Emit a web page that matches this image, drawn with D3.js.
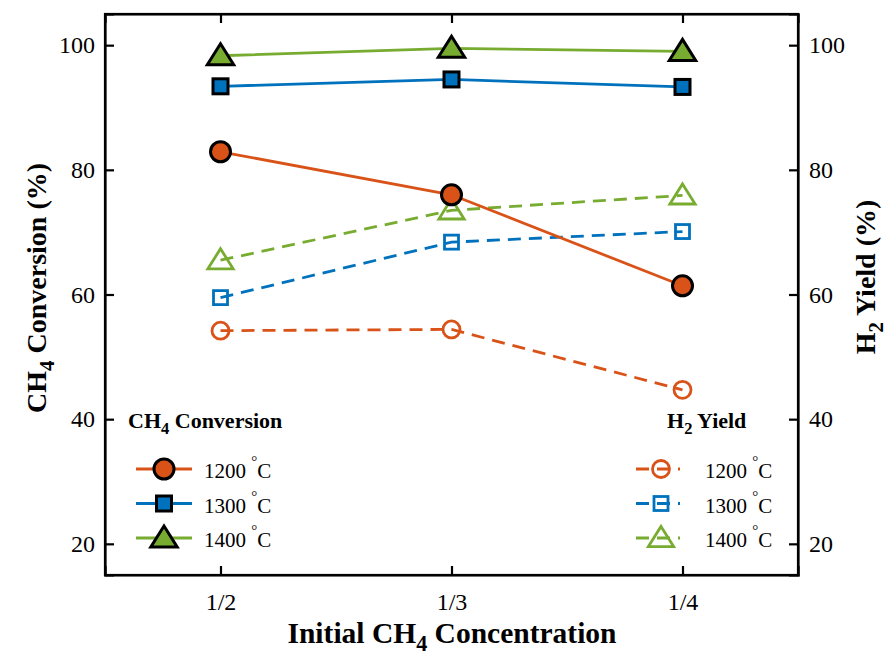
<!DOCTYPE html>
<meta charset="utf-8">
<style>
body { margin: 0; background: #fff; }
svg text { font-family: 'Liberation Serif', 'Times New Roman', serif; fill: #000; }
</style>
<svg width="892" height="655"></svg>
<script src="https://d3js.org/d3.v7.min.js"></script>
<script>

// data
var concentrations = ["1/2", "1/3", "1/4"];
var temps = ["1200", "1300", "1400"];
var conv1200 = [82.9, 76.0, 61.4];
var conv1300 = [93.4, 94.5, 93.3];
var conv1400 = [98.3, 99.5, 99.0];
var yield1200 = [54.2, 54.4, 44.7];
var yield1300 = [59.5, 68.4, 70.1];
var yield1400 = [65.5, 73.5, 75.9];
var yTicks = [20, 40, 60, 80, 100];

var colors = ["#D95319", "#0072BD", "#77AC30"];
var shapes = ["circle", "square", "triangle"];
var serif = "'Liberation Serif', 'Times New Roman', serif";

var svg = d3.select("svg");
var margin = {left: 105, right: 798, top: 14, bottom: 575};

var x = d3.scalePoint().domain(concentrations)
    .range([margin.left, margin.right]).padding(0.5);
var y = d3.scaleLinear().domain([15, 105]).range([margin.bottom, margin.top]);

var lineGen = d3.line()
    .x(function(d, i) { return x(concentrations[i]); })
    .y(function(d) { return y(d); });

var convSeries = [conv1200, conv1300, conv1400];
var yieldSeries = [yield1200, yield1300, yield1400];

function styleAxis(g) {
  g.attr("font-family", null);
  g.select(".domain").attr("stroke", "#000").attr("stroke-width", 2.2);
  g.selectAll(".tick line").attr("stroke", "#000").attr("stroke-width", 2.2);
  g.selectAll(".tick text").style("font-family", serif)
    .attr("font-size", 24).attr("fill", "#000");
}

// axes (ticks point inward, box around plot)
svg.append("g").attr("transform", "translate(" + margin.left + ",0)")
  .call(d3.axisLeft(y).tickValues(yTicks).tickSize(-9).tickPadding(10))
  .call(styleAxis);
svg.append("g").attr("transform", "translate(" + margin.right + ",0)")
  .call(d3.axisRight(y).tickValues(yTicks).tickSize(-9).tickPadding(11))
  .call(styleAxis);
svg.append("g").attr("transform", "translate(0," + margin.bottom + ")")
  .call(d3.axisBottom(x).tickSize(-9).tickPadding(18))
  .call(styleAxis);
svg.append("g").attr("transform", "translate(0," + margin.top + ")")
  .call(d3.axisTop(x).tickSize(-9).tickFormat(""))
  .call(styleAxis);

// plot box
svg.append("rect")
  .attr("x", margin.left).attr("y", margin.top)
  .attr("width", margin.right - margin.left)
  .attr("height", margin.bottom - margin.top)
  .attr("fill", "none").attr("stroke", "#000").attr("stroke-width", 2.2);

function marker(g, shape, cx, cy, filled, color) {
  var m;
  if (shape == "circle") {
    m = g.append("circle").attr("cx", cx).attr("cy", cy).attr("r", filled ? 10 : 8.5);
  } else if (shape == "square") {
    var s = filled ? 15 : 14;
    m = g.append("rect").attr("x", cx - s / 2).attr("y", cy - s / 2).attr("width", s).attr("height", s);
  } else {
    var h = filled ? 12 : 11.5;
    m = g.append("path").attr("d", "M" + cx + "," + (cy - h) + "L" + (cx + h * 1.1) + "," + (cy + h * 0.75) +
      "L" + (cx - h * 1.1) + "," + (cy + h * 0.75) + "Z");
  }
  if (filled) {
    m.attr("fill", color).attr("stroke", "#000").attr("stroke-width", 3);
  } else {
    m.attr("fill", "none").attr("stroke", color).attr("stroke-width", 2.8);
  }
}

// H2 yield: dashed, hollow markers
yieldSeries.forEach(function(vals, k) {
  var g = svg.append("g");
  vals.forEach(function(v, i) { marker(g, shapes[k], x(concentrations[i]), y(v), false, colors[k]); });
  g.append("path").datum(vals).attr("d", lineGen)
    .attr("fill", "none").attr("stroke", colors[k]).attr("stroke-width", 2.8)
    .attr("stroke-dasharray", "13,8");
});

// CH4 conversion: solid, filled markers
convSeries.forEach(function(vals, k) {
  var g = svg.append("g");
  g.append("path").datum(vals).attr("d", lineGen)
    .attr("fill", "none").attr("stroke", colors[k]).attr("stroke-width", 2.8);
  vals.forEach(function(v, i) { marker(g, shapes[k], x(concentrations[i]), y(v), true, colors[k]); });
});

// text with a subscript part
function subText(parent, parts, size) {
  var t = parent.append("text").attr("font-size", size).attr("font-weight", "bold")
    .style("font-family", serif);
  parts.forEach(function(p) {
    if (p.sub) {
      t.append("tspan").attr("dy", size * 0.28).attr("font-size", size * 0.75).text(p.t);
    } else if (p.back) {
      t.append("tspan").attr("dy", -size * 0.28).text(p.t);
    } else {
      t.append("tspan").text(p.t);
    }
  });
  return t;
}

// axis titles
subText(svg, [{t: "Initial CH"}, {t: "4", sub: true}, {t: " Concentration", back: true}], 29.5)
  .attr("x", 452).attr("y", 643).attr("text-anchor", "middle");

subText(svg, [{t: "CH"}, {t: "4", sub: true}, {t: " Conversion (%)", back: true}], 28)
  .attr("text-anchor", "middle")
  .attr("transform", "translate(46,288) rotate(-90)");

subText(svg, [{t: "H"}, {t: "2", sub: true}, {t: " Yield (%)", back: true}], 28)
  .attr("text-anchor", "middle")
  .attr("transform", "translate(875,277) rotate(-90)");

// legends
function legend(x0, headerParts, filled, lineX1, lineX2, markX, textX) {
  subText(svg, headerParts, 22).attr("x", x0).attr("y", 428);
  temps.forEach(function(t, k) {
    var ly = 469 + k * 34.5;
    var g = svg.append("g");
    if (filled) {
      g.append("line").attr("x1", lineX1).attr("x2", lineX2).attr("y1", ly).attr("y2", ly)
        .attr("stroke", colors[k]).attr("stroke-width", 2.8);
      marker(g, shapes[k], markX, ly, true, colors[k]);
    } else {
      marker(g, shapes[k], markX, ly, false, colors[k]);
      g.append("line").attr("x1", lineX1).attr("x2", lineX2).attr("y1", ly).attr("y2", ly)
        .attr("stroke", colors[k]).attr("stroke-width", 2.8).attr("stroke-dasharray", "13,8");
    }
    var tx = svg.append("text").attr("x", textX).attr("y", ly + 9).attr("font-size", 21)
      .style("font-family", serif);
    tx.append("tspan").text(t + " ");
    tx.append("tspan").attr("dy", -12).attr("font-size", 15).text("\u00B0");
    tx.append("tspan").attr("dy", 12).text("C");
  });
}

legend(128, [{t: "CH"}, {t: "4", sub: true}, {t: " Conversion", back: true}], true, 136, 192, 164, 204);
legend(667, [{t: "H"}, {t: "2", sub: true}, {t: " Yield", back: true}], false, 636, 680, 661, 705);

</script>
